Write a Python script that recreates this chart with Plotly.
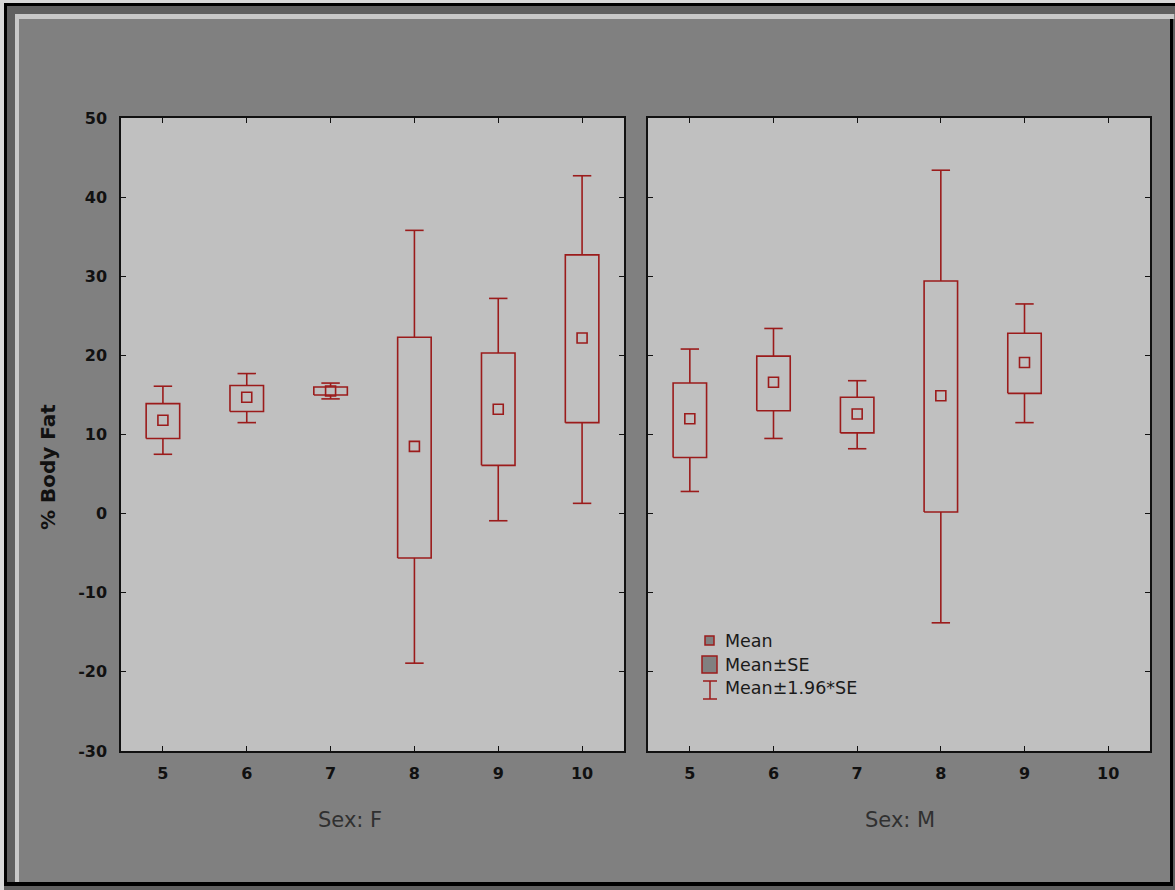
import plotly.graph_objects as go

# ---------------- data ----------------
categories = [5, 6, 7, 8, 9, 10]

# Sex: F
f_mean    = [11.8, 14.7, 15.5, 8.5, 13.2, 22.2]
f_se_lo   = [9.5, 12.9, 15.0, -5.6, 6.1, 11.5]
f_se_hi   = [13.9, 16.2, 16.0, 22.3, 20.3, 32.7]
f_ci_lo   = [7.5, 11.5, 14.5, -18.9, -0.9, 1.3]
f_ci_hi   = [16.1, 17.7, 16.5, 35.8, 27.2, 42.7]

# Sex: M (no data at 10)
m_cats    = [5, 6, 7, 8, 9]
m_mean    = [12.0, 16.6, 12.6, 14.9, 19.1]
m_se_lo   = [7.1, 13.0, 10.2, 0.2, 15.2]
m_se_hi   = [16.5, 19.9, 14.7, 29.4, 22.8]
m_ci_lo   = [2.8, 9.5, 8.2, -13.8, 11.5]
m_ci_hi   = [20.8, 23.4, 16.8, 43.4, 26.5]

y_ticks = [-30, -20, -10, 0, 10, 20, 30, 40, 50]
panel_titles = ["Sex: F", "Sex: M"]
legend_labels = ["Mean", "Mean\u00b1SE", "Mean\u00b11.96*SE"]
y_title = "% Body Fat"

# ---------------- style ----------------
W, H = 1175, 890
RED = "#9b1b1b"
BOX_HW = 0.2
CAP_HW = 0.11
FONT = "DejaVu Sans"

def px(x):
    return x / W

def py(y):
    return 1 - y / H

fig = go.Figure()

def add_group(cats, mean, lo, hi, clo, chi, xa, ya):
    bx, by = [], []
    wx, wy = [], []
    for c, a, b, l, h in zip(cats, lo, hi, clo, chi):
        bx += [c - BOX_HW, c + BOX_HW, c + BOX_HW, c - BOX_HW, c - BOX_HW, None]
        by += [a, a, b, b, a, None]
        wx += [c, c, None, c, c, None,
               c - CAP_HW, c + CAP_HW, None, c - CAP_HW, c + CAP_HW, None]
        wy += [b, h, None, a, l, None, h, h, None, l, l, None]
    fig.add_trace(go.Scatter(x=wx, y=wy, mode="lines", xaxis=xa, yaxis=ya,
                             line=dict(color=RED, width=1.6), hoverinfo="skip",
                             showlegend=False))
    fig.add_trace(go.Scatter(x=bx, y=by, mode="lines", xaxis=xa, yaxis=ya,
                             line=dict(color=RED, width=1.6), hoverinfo="skip",
                             showlegend=False))
    fig.add_trace(go.Scatter(x=cats, y=mean, mode="markers", xaxis=xa, yaxis=ya,
                             marker=dict(symbol="square-open", size=10,
                                         color=RED, line=dict(width=1.6, color=RED)),
                             showlegend=False))

add_group(categories, f_mean, f_se_lo, f_se_hi, f_ci_lo, f_ci_hi, "x", "y")
add_group(m_cats, m_mean, m_se_lo, m_se_hi, m_ci_lo, m_ci_hi, "x2", "y2")

ax_common = dict(
    showline=True, linecolor="#111111", linewidth=1.5, mirror="ticks",
    ticks="inside", ticklen=5, tickwidth=1.2, tickcolor="#111111",
    showgrid=False, zeroline=False, automargin=False,
)
x_common = dict(ax_common, range=[4.5, 10.5], tickmode="array",
                tickvals=categories, ticktext=[str(c) for c in categories],
                tickfont=dict(family=FONT, size=16, color="#111111", weight="bold"),
                ticklabelstandoff=7)
y_common = dict(ax_common, range=[-30, 50], tickmode="array", tickvals=y_ticks,
                ticktext=[str(t) for t in y_ticks],
                tickfont=dict(family=FONT, size=16, color="#111111", weight="bold"),
                ticklabelstandoff=9)

dom_y = [py(751), py(118)]
fig.update_layout(
    width=W, height=H, autosize=False,
    margin=dict(l=0, r=0, t=0, b=0, pad=0, autoexpand=False),
    paper_bgcolor="#808080", plot_bgcolor="#c0c0c0",
    showlegend=False,
    xaxis=dict(x_common, domain=[px(121), px(624)], anchor="y"),
    yaxis=dict(y_common, domain=dom_y, anchor="x"),
    xaxis2=dict(x_common, domain=[px(648), px(1150)], anchor="y2"),
    yaxis2=dict(y_common, domain=dom_y, anchor="x2", showticklabels=False),
)

shapes = []
def rect(x0, y0, x1, y1, color, layer="above"):
    shapes.append(dict(type="rect", xref="paper", yref="paper",
                       x0=px(x0), x1=px(x1), y0=py(y1), y1=py(y0),
                       fillcolor=color, line=dict(width=0), layer=layer))

# window frame
rect(0, 0, 1175, 3, "#d8d8d8")
rect(0, 0, 4, 890, "#d8d8d8")
rect(4, 3, 1175, 6, "#000000")
rect(4, 3, 7, 886, "#000000")
rect(7, 6, 1175, 14, "#606060")
rect(7, 6, 15, 886, "#606060")
rect(15, 14, 1174, 19, "#c8c8c8")
rect(15, 14, 19, 882, "#c8c8c8")
rect(1170, 19, 1173, 886, "#000000")
rect(1173, 19, 1175, 890, "#606060")
rect(4, 882, 1173, 886, "#000000")
rect(4, 886, 1175, 890, "#606060")

# legend symbols (inside right panel)
shapes.append(dict(type="rect", xref="paper", yref="paper",
                   x0=px(705), x1=px(714), y0=py(645), y1=py(636),
                   fillcolor="#808080", line=dict(color=RED, width=1.5)))
shapes.append(dict(type="rect", xref="paper", yref="paper",
                   x0=px(702), x1=px(717), y0=py(673), y1=py(656),
                   fillcolor="#808080", line=dict(color=RED, width=1.5)))
for (x0, y0, x1, y1) in [(710, 681, 710, 699), (703, 681, 717, 681), (703, 699, 717, 699)]:
    shapes.append(dict(type="line", xref="paper", yref="paper",
                       x0=px(x0), x1=px(x1), y0=py(y0), y1=py(y1),
                       line=dict(color=RED, width=1.5)))
fig.update_layout(shapes=shapes)

annotations = []
for i, (lab, yy) in enumerate(zip(legend_labels, [641, 665, 688])):
    annotations.append(dict(text=lab, xref="paper", yref="paper", x=px(723), y=py(yy),
                            xanchor="left", yanchor="middle", showarrow=False,
                            font=dict(family=FONT, size=17.5, color="#1a1a1a")))
annotations.append(dict(text=panel_titles[0], xref="paper", yref="paper",
                        x=px(350), y=py(820), xanchor="center", yanchor="middle",
                        showarrow=False, font=dict(family=FONT, size=21, color="#303030")))
annotations.append(dict(text=panel_titles[1], xref="paper", yref="paper",
                        x=px(900), y=py(820), xanchor="center", yanchor="middle",
                        showarrow=False, font=dict(family=FONT, size=21, color="#303030")))
annotations.append(dict(text=y_title, xref="paper", yref="paper",
                        x=px(48), y=py(467), xanchor="center", yanchor="middle",
                        textangle=-90, showarrow=False,
                        font=dict(family=FONT, size=20, color="#111111", weight="bold")))
fig.update_layout(annotations=annotations)

fig.write_html("out.html", config={"displayModeBar": False},
               post_script="document.body.style.margin='0';document.body.style.overflow='hidden';")
